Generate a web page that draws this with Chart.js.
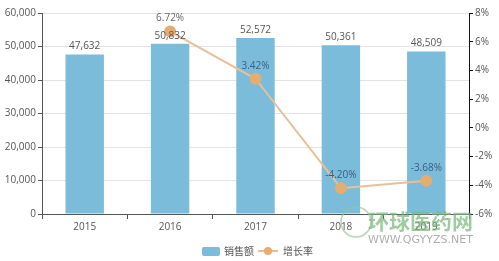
<!DOCTYPE html>
<html><head><meta charset="utf-8">
<script src="https://cdn.jsdelivr.net/npm/chart.js@4/dist/chart.umd.min.js"></script>
<style>html,body{margin:0;padding:0;background:#fff}#w{width:499px;height:261px}</style>
</head><body><div id="w"><canvas id="c" width="499" height="261"></canvas></div>
<script>
const categories = ['2015','2016','2017','2018','2019'];
const sales = [47632, 50832, 52572, 50361, 48509];
const growth = [null, 6.72, 3.42, -4.20, -3.68];
const leftTicks = [0,10000,20000,30000,40000,50000,60000];
const rightTicks = [-6,-4,-2,0,2,4,6,8];
const seriesNames = ['销售额','增长率'];

const BAR = 'rgb(122,188,218)';
const LINE = 'rgb(232,192,152)';
const PT = 'rgb(230,172,112)';
const fmt = v => v.toLocaleString('en-US');

const labelsPlugin = {
  id:'labels',
  afterDatasetsDraw(chart){
    const ctx = chart.ctx;
    ctx.save();
    ctx.font = '10px "Open Sans", sans-serif';
    ctx.textAlign = 'center';
    ctx.textBaseline = 'bottom';
    const m0 = chart.getDatasetMeta(0);
    m0.data.forEach((b,i)=>{ ctx.fillStyle='#555'; ctx.fillText(fmt(sales[i]), b.x, b.y-3); });
    const m1 = chart.getDatasetMeta(1);
    m1.data.forEach((p,i)=>{ if(growth[i]==null) return; ctx.fillStyle = i>=2 ? '#3a5f80' : '#666'; ctx.fillText(growth[i].toFixed(2)+'%', p.x, p.y-8); });
    // legend
    const ly = 251;
    ctx.fillStyle = BAR;
    ctx.beginPath(); ctx.roundRect ? ctx.roundRect(202,247,18,9,2) : ctx.rect(202,247,18,9); ctx.fill();
    ctx.fillStyle = '#555'; ctx.textAlign='left'; ctx.textBaseline='middle';
    ctx.font = '10px "Noto Sans CJK SC", sans-serif';
    ctx.fillText(seriesNames[0], 224, ly);
    ctx.strokeStyle = LINE; ctx.lineWidth = 2;
    ctx.beginPath(); ctx.moveTo(258,ly); ctx.lineTo(278,ly); ctx.stroke();
    ctx.fillStyle = PT; ctx.beginPath(); ctx.arc(268,ly,4,0,Math.PI*2); ctx.fill();
    ctx.fillStyle = '#555';
    ctx.fillText(seriesNames[1], 283, ly);
    // watermark logo
    ctx.globalAlpha = 0.7;
    ctx.strokeStyle = 'rgb(150,195,150)'; ctx.lineWidth = 1.5;
    ctx.beginPath(); ctx.arc(356,222,15,0,Math.PI*2); ctx.stroke();
    ctx.fillStyle = 'rgb(120,180,120)';
    ctx.font = 'bold 21px "Noto Sans CJK SC", sans-serif';
    ctx.fillText('环球医药网', 368, 221);
    ctx.fillStyle = 'rgb(140,140,140)';
    ctx.font = '11px "DejaVu Sans", sans-serif';
    ctx.fillText('WWW.QGYYZS.NET', 368, 240);
    ctx.restore();
  }
};

new Chart(document.getElementById('c'), {
  data:{
    labels: categories,
    datasets:[
      {type:'bar', data: sales, backgroundColor: BAR, yAxisID:'y', barPercentage:0.45, categoryPercentage:1, order:2},
      {type:'line', data: growth, borderColor: LINE, borderWidth:2, pointBackgroundColor: PT, pointBorderColor: PT, pointRadius:5, yAxisID:'y1', order:1, spanGaps:true, tension:0}
    ]
  },
  options:{
    responsive:false, animation:false, devicePixelRatio:1,
    layout:{padding:{top:13, bottom:30, left:0, right:0}},
    plugins:{legend:{display:false}, tooltip:{enabled:false}},
    scales:{
      x:{ offset:true,
        grid:{display:true, drawOnChartArea:false, offset:true, color:'#555', tickLength:5},
        border:{color:'#555'},
        ticks:{color:'#555', font:{size:10, family:'"Open Sans", sans-serif'}, padding:2},
        afterFit(s){ s.height = 17; }
      },
      y:{ position:'left', min:0, max:60000,
        afterBuildTicks(s){ s.ticks = leftTicks.map(v=>({value:v})); },
        grid:{color:'#e3e3e3', tickLength:4, tickColor:'#555'},
        border:{color:'#555'},
        ticks:{color:'#555', font:{size:10, family:'"Open Sans", sans-serif'}, padding:2, callback:v=>fmt(v)},
        afterFit(s){ s.width = 42; }
      },
      y1:{ position:'right', min:-6, max:8,
        afterBuildTicks(s){ s.ticks = rightTicks.map(v=>({value:v})); },
        grid:{drawOnChartArea:false, tickLength:4, color:'#111'},
        border:{color:'#111'},
        ticks:{color:'#555', font:{size:10, family:'"Open Sans", sans-serif'}, padding:2, callback:v=>v+'%'},
        afterFit(s){ s.width = 30; }
      }
    }
  },
  plugins:[labelsPlugin]
});
</script></body></html>
